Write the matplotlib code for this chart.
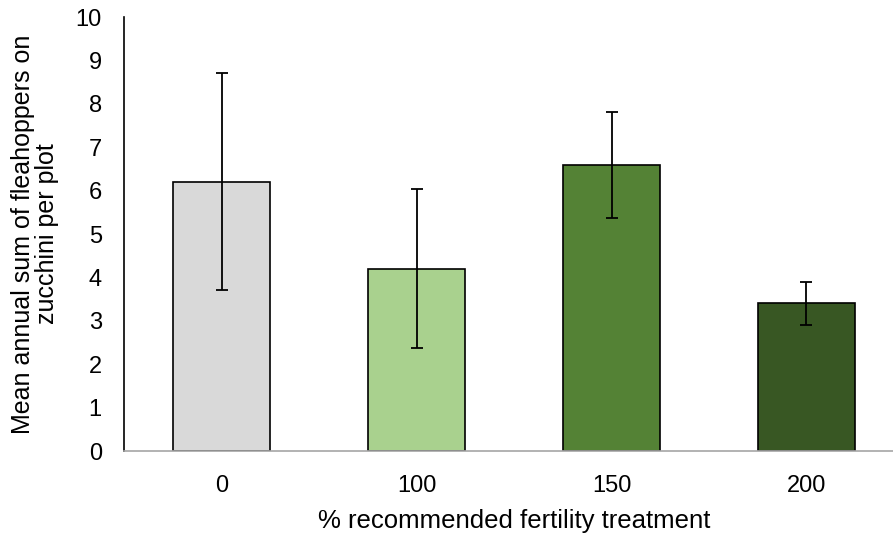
import matplotlib.pyplot as plt

plt.rcParams["font.family"] = ["Liberation Sans", "DejaVu Sans"]

treatments = ["0", "100", "150", "200"]
means = [6.2, 4.2, 6.6, 3.4]
errors = [2.5, 1.83, 1.22, 0.5]
colors = ["#D9D9D9", "#A9D18E", "#548235", "#385723"]

fig = plt.figure(figsize=(8.93, 5.33), dpi=100)
ax = fig.add_axes([0.1389, 0.1538, 0.8734, 0.8142])

x = range(len(treatments))
ax.bar(x, means, width=0.5, color=colors, edgecolor="black", linewidth=1.2,
       yerr=errors, error_kw={"ecolor": "black", "elinewidth": 1.3,
                              "capsize": 4.5, "capthick": 1.3})

ax.set_xlim(-0.5, 3.5)
ax.set_ylim(0, 10)
ax.set_yticks(range(0, 11))
ax.set_xticks(list(x))
ax.set_xticklabels(treatments)
ax.tick_params(axis="both", length=0, labelsize=17, colors="black")
ax.tick_params(axis="x", pad=17)
ax.tick_params(axis="y", pad=16)

for side in ("top", "right"):
    ax.spines[side].set_visible(False)
ax.spines["left"].set_color("black")
ax.spines["left"].set_linewidth(1.2)
ax.spines["bottom"].set_color("#A6A6A6")
ax.spines["bottom"].set_linewidth(1.2)

ax.set_xlabel("% recommended fertility treatment", fontsize=18.5, labelpad=9)
ax.set_ylabel("Mean annual sum of fleahoppers on\nzucchini per plot",
              fontsize=18, labelpad=12, linespacing=1.0)

fig.savefig("out.png", dpi=100)
